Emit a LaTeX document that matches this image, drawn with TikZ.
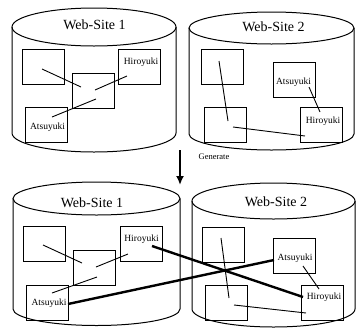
\documentclass[tikz,border=0pt]{standalone}
\usepackage{fontspec}
\setmainfont{Liberation Serif}
\usetikzlibrary{arrows.meta}

% one web-site drum: centre x, top y, bottom y, x radius, y radius
\newcommand{\drum}[5]{%
  \draw[line width=1pt] (#1,#2) ellipse [x radius=#4,y radius=#5];
  \draw[line width=1pt] (#1-#4,#2) -- (#1-#4,#3) arc[start angle=180,end angle=0,x radius=#4,y radius=#5] -- (#1+#4,#2);}

\begin{document}
\begin{tikzpicture}[x=1pt,y=-1pt,>=Latex]
\tikzstyle{page}=[draw,line width=.9pt,minimum width=42pt,minimum height=35pt,inner sep=0pt]
\tikzstyle{site}=[font=\fontsize{14}{16}\selectfont,inner sep=0pt]
\tikzstyle{who}=[font=\fontsize{9.5}{11}\selectfont,inner sep=0pt]
\tikzstyle{link}=[line width=.9pt]
\tikzstyle{xlink}=[line width=2.4pt]
\useasboundingbox (0,0) rectangle (356,330);

% before
\drum{94}{27}{133}{82}{19}
\drum{271.5}{28}{134}{82.5}{16}
\node[site] (s1) at (94.5,25) {Web-Site 1};
\node[site] (s2) at (273.5,27) {Web-Site 2};
\node[page] (a1) at (43,66.5) {};
\node[page] (b1) at (93.5,91) {};
\node[page] (h1) at (139.5,67) {};
\node[page] (t1) at (46,125) {};
\node[who] (h1l) at (141,62) {Hiroyuki};
\node[who] (t1l) at (47.5,127) {Atsuyuki};
\draw[link] ([shift={(-1,2.5)}]a1.center) -- ([shift={(-12.5,-4)}]b1.center);
\draw[link] ([shift={(1.5,-1)}]b1.center) -- ([shift={(-12.5,9)}]h1.center);
\draw[link] ([shift={(2.5,8)}]b1.center) -- ([shift={(6,-8)}]t1.center);
\node[page] (a2) at (222,67) {};
\node[page] (b2) at (225,125) {};
\node[page] (t2) at (294,79.5) {};
\node[page] (h2) at (321.5,125) {};
\node[who] (t2l) at (293.5,82) {Atsuyuki};
\node[who] (h2l) at (323,121.5) {Hiroyuki};
\draw[link] ([shift={(-3,-6)}]a2.center) -- ([shift={(3,-4)}]b2.center);
\draw[link] ([shift={(8,2)}]b2.center) -- ([shift={(-16.5,11)}]h2.center);
\draw[link] ([shift={(15,7.5)}]t2.center) -- ([shift={(-1.5,-13)}]h2.center);

% generate
\coordinate (g0) at (180,150);
\coordinate (g1) at (180,185);
\draw[-{Latex[length=9pt,width=8pt]},line width=2pt] (g0) -- (g1);
\node[font=\fontsize{8.5}{10}\selectfont] (gen) at (214,157) {Generate};

% after
\drum{96.5}{198.5}{309}{83.5}{16.5}
\drum{273.5}{201}{309}{81.5}{18}
\node[site] (s3) at (92,203) {Web-Site 1};
\node[site] (s4) at (276,202) {Web-Site 2};
\node[page] (a3) at (44,244) {};
\node[page] (b3) at (94.5,267.5) {};
\node[page] (h3) at (141,244) {};
\node[page] (t3) at (47,302.5) {};
\node[who] (h3l) at (141.5,239) {Hiroyuki};
\node[who] (t3l) at (49,303) {Atsuyuki};
\draw[link] ([shift={(-1,1)}]a3.center) -- ([shift={(-12.5,-4.5)}]b3.center);
\draw[link] ([shift={(1.5,-.5)}]b3.center) -- ([shift={(-13,10)}]h3.center);
\draw[link] ([shift={(2.5,9.5)}]b3.center) -- ([shift={(5,-9.5)}]t3.center);
\node[page] (a4) at (223,244.5) {};
\node[page] (t4) at (294.5,256) {};
\node[page] (b4) at (226.5,302.5) {};
\node[page] (h4) at (322.5,302.5) {};
\node[who] (t4l) at (295,258) {Atsuyuki};
\node[who] (h4l) at (324,297) {Hiroyuki};
\draw[link] ([shift={(-2,-6.5)}]a4.center) -- ([shift={(2.5,-4.5)}]b4.center);
\draw[link] ([shift={(7.5,2.5)}]b4.center) -- ([shift={(-16.5,10.5)}]h4.center);
\draw[link] ([shift={(8.5,10)}]t4.center) -- ([shift={(-3.5,-13.5)}]h4.center);
\draw[xlink] ([shift={(11,2)}]h3.center) -- ([shift={(-19.5,-5.5)}]h4.center);
\draw[xlink] ([shift={(21,1.5)}]t3.center) -- ([shift={(-20.5,4)}]t4.center);
\end{tikzpicture}
\end{document}
